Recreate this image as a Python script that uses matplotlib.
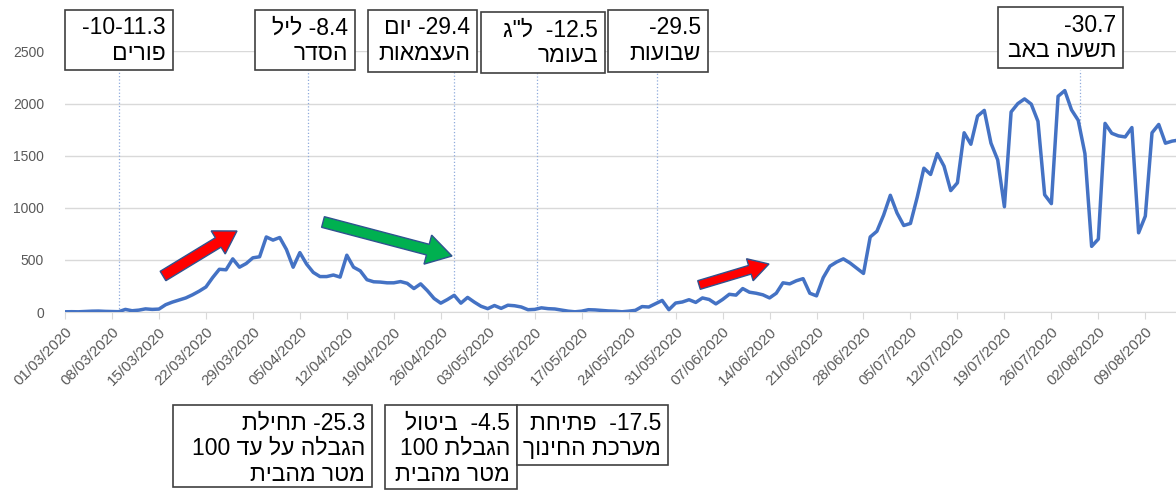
import numpy as np
import pandas as pd
import matplotlib
matplotlib.use("Agg")
import matplotlib.pyplot as plt
from matplotlib.patches import Rectangle, FancyArrow

# =========================
# DATA (daily new cases, from 01/03/2020)
# =========================
start_date = "2020-03-01"
cases = [
    2, 3, 2, 5, 8, 9, 6, 5, 3, 25,
    12, 18, 30, 25, 28, 70, 95, 115, 135, 165,
    200, 240, 330, 410, 405, 510, 430, 465, 520, 530,
    720, 690, 715, 600, 430, 570, 460, 380, 340, 340,
    355, 335, 545, 430, 395, 310, 290, 287, 280, 280,
    292, 275, 225, 270, 205, 130, 85, 120, 160, 85,
    140, 95, 55, 32, 62, 35, 65, 60, 48, 22,
    25, 40, 32, 29, 18, 8, 2, 8, 22, 20,
    15, 10, 8, 2, 8, 16, 52, 48, 80, 111,
    22, 86, 96, 118, 92, 135, 120, 78, 120, 170,
    162, 225, 190, 180, 165, 135, 180, 280, 270, 300,
    320, 180, 155, 330, 440, 480, 510, 470, 420, 370,
    720, 775, 930, 1120, 950, 830, 850, 1100, 1380, 1320,
    1520, 1400, 1165, 1240, 1720, 1610, 1880, 1935, 1620, 1460,
    1010, 1920, 2000, 2045, 1995, 1830, 1125, 1040, 2070, 2125,
    1940, 1840, 1520, 630, 700, 1810, 1715, 1690, 1680, 1770,
    760, 920, 1720, 1800, 1620, 1640, 1650,
]
y_ticks = [0, 500, 1000, 1500, 2000, 2500]

# days (from start) where the callout lines of the top boxes point
event_days = [8.0, 36.2, 58.0, 70.3, 88.2, 151.3]


def rtl(s):
    """Hebrew run -> visual (left to right) order"""
    return s[::-1]


top_labels = [
    ["-10-11.3", rtl("פורים")],
    [rtl("ליל") + " -8.4", rtl("הסדר")],
    [rtl("יום") + " -29.4", rtl("העצמאות")],
    [rtl('ל"ג') + "  -12.5", rtl("בעומר")],
    ["-29.5", rtl("שבועות")],
    ["-30.7", rtl("תשעה באב")],
]
bottom_labels = [
    [rtl("תחילת") + " -25.3", "100 " + rtl("הגבלה על עד"), rtl("מטר מהבית")],
    [rtl("ביטול") + "  -4.5", "100 " + rtl("הגבלת"), rtl("מטר מהבית")],
    [rtl("פתיחת") + "  -17.5", rtl("מערכת החינוך")],
]

# =========================
# STYLE / LAYOUT (pixels)
# =========================
W, H = 1176, 490
line_color = "#4472C4"
grid_color = "#D9D9D9"
tick_color = "#595959"
box_font = ["Liberation Sans", "DejaVu Sans"]

top_boxes = [(65, 10, 108, 60), (255, 10, 100, 60), (368, 10, 109, 62),
             (481, 12, 124, 61), (608, 10, 100, 62), (998, 7, 125, 61)]
bottom_boxes = [(173, 405, 199, 82), (385, 405, 132, 84), (517, 405, 151, 60)]

plt.rcParams["font.family"] = ["Liberation Sans", "DejaVu Sans"]

fig = plt.figure(figsize=(W / 100, H / 100), dpi=100)
ax = fig.add_axes([65 / W, 178 / H, (W - 65) / W, 260.5 / H])

days = np.arange(len(cases))
ax.plot(days, cases, color=line_color, lw=2.5, solid_joinstyle="round",
        solid_capstyle="round", zorder=3)

ax.set_ylim(0, 2500)
ax.set_yticks(y_ticks)
ax.set_xlim(0, (W - 65) / 6.71)
week_days = np.arange(0, len(cases), 7)
ax.set_xticks(week_days)
dates = pd.date_range(start_date, periods=len(cases))
ax.set_xticklabels([dates[i].strftime("%d/%m/%Y") for i in week_days],
                   rotation=45, ha="right", rotation_mode="anchor")

ax.grid(axis="y", color=grid_color, lw=1)
ax.set_axisbelow(True)
for s in ["top", "right", "left"]:
    ax.spines[s].set_visible(False)
ax.spines["bottom"].set_color(grid_color)
ax.tick_params(axis="y", length=0, pad=15, labelsize=10, labelcolor=tick_color)
ax.tick_params(axis="x", length=5, color=grid_color, pad=4, labelsize=10.8,
               labelcolor=tick_color)

# callout lines from the top boxes to the curve
box_bottom_val = (312 - 70) / (260.5 / 2500)
for d in event_days:
    v = np.interp(d, days, cases)
    ax.plot([d, d], [v, box_bottom_val], color="#8FAADC", lw=0.9, ls=":",
            zorder=2, clip_on=False)

# =========================
# OVERLAY: boxes + arrows
# =========================
ov = fig.add_axes([0, 0, 1, 1], zorder=5)
ov.set_xlim(0, W)
ov.set_ylim(H, 0)
ov.axis("off")


def draw_box(box, lines):
    x, y, w, h = box
    ov.add_patch(Rectangle((x, y), w, h, facecolor="white", edgecolor="#404040", lw=1.2))
    for i, t in enumerate(lines):
        ov.text(x + w - 7, y + 18 + 25.5 * i, t, ha="right", va="center",
                fontsize=16.5, family=box_font, color="black")


for b, l in zip(top_boxes, top_labels):
    draw_box(b, l)
for b, l in zip(bottom_boxes, bottom_labels):
    draw_box(b, l)

arrows = [
    # (x0, y0, x1, y1, shaft, head_w, head_l, color)
    (163, 276, 237, 231, 11, 27, 22, "#FF0000"),
    (323, 222, 452, 256, 11, 30, 25, "#00B050"),
    (699, 285, 769, 264, 9, 23, 20, "#FF0000"),
]
for x0, y0, x1, y1, sw, hw, hl, c in arrows:
    ov.add_patch(FancyArrow(x0, y0, x1 - x0, y1 - y0, width=sw, head_width=hw,
                            head_length=hl, length_includes_head=True,
                            facecolor=c, edgecolor="#2F528F", lw=1))

fig.savefig("out.png", dpi=100)
